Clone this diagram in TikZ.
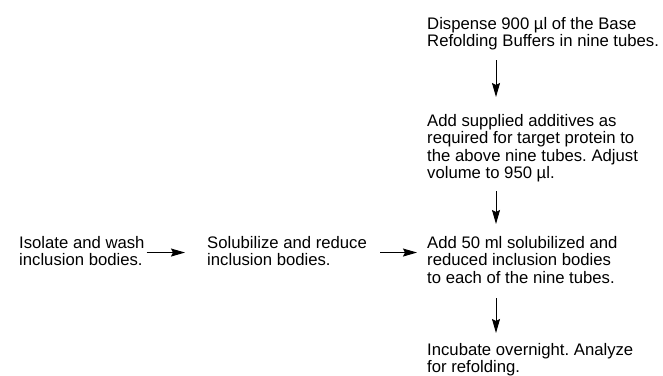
\documentclass[tikz,border=0pt]{standalone}
\usepackage{fontspec}
\setmainfont{Liberation Sans}
\usetikzlibrary{arrows.meta}
\frenchspacing

\begin{document}
\begin{tikzpicture}[>={Stealth[length=14bp,width=8bp,inset=2bp]}, x=1bp, y=-1bp,
    stepnode/.style={anchor=north west, inner sep=0pt, align=left,
        font=\fontsize{16.7bp}{17.4bp}\selectfont},
    flow/.style={->, line width=1bp}]
    % 1. Page frame
    \useasboundingbox (0,0) rectangle (663,375);

    % 2. Steps of the right column
    \node[stepnode] (dispense) at (427,17) {Dispense 900 µl of the Base\\Refolding Buffers in nine tubes.};
    \node[stepnode] (additives) at (427,114) {Add supplied additives as\\required for target protein to\\the above nine tubes. Adjust\\volume to 950 µl.};
    \node[stepnode] (addbodies) at (427,236) {Add 50 ml solubilized and\\reduced inclusion bodies\\to each of the nine tubes.};
    \node[stepnode] (incubate) at (427,343) {Incubate overnight. Analyze\\for refolding.};

    % 3. Steps of the bottom row
    \node[stepnode] (isolate) at (19,236) {Isolate and wash\\inclusion bodies.};
    \node[stepnode] (solubilize) at (207,236) {Solubilize and reduce\\inclusion bodies.};

    % 4. Vertical arrows
    \coordinate (col) at (496,0);
    \draw[flow, shorten <=10bp, shorten >=17bp] (dispense.south -| col) -- (additives.north -| col);
    \draw[flow, shorten <=9bp, shorten >=12bp] (additives.south -| col) -- (addbodies.north -| col);
    \draw[flow, shorten <=15bp, shorten >=10bp] (addbodies.south -| col) -- (incubate.north -| col);

    % 5. Horizontal arrows
    \draw[flow, shorten <=2bp, shorten >=22bp] ([yshift=-1.5bp]isolate.east) -- ([yshift=-1.5bp]isolate.east -| solubilize.west);
    \draw[flow, shorten <=13bp, shorten >=10bp] ([yshift=-1.5bp]solubilize.east) -- ([yshift=-1.5bp]solubilize.east -| addbodies.west);

\end{tikzpicture}
\end{document}
